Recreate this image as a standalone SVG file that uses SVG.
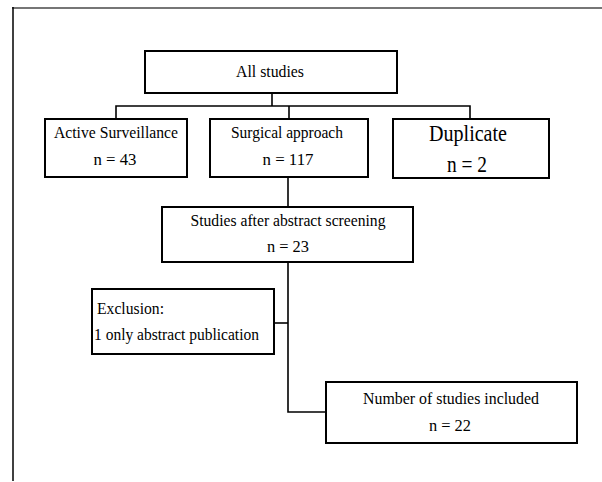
<svg xmlns="http://www.w3.org/2000/svg" width="602" height="482" viewBox="0 0 602 482">
<style>
.box{fill:#fff;stroke:#000;stroke-width:2}
.t{font-family:"Liberation Serif","Times New Roman",serif;font-size:17px;fill:#000;text-anchor:middle}
.big{font-size:23px}
.l{text-anchor:start}
.c{fill:none;stroke:#000;stroke-width:1.6}
</style>
<rect width="602" height="482" fill="#fff"/>
<g id="frame">
<line x1="12" y1="8" x2="602" y2="8" stroke="#767676" stroke-width="2"/>
<line x1="13" y1="7" x2="13" y2="481" stroke="#000" stroke-width="1.5"/>
</g>
<g id="connectors">
<path class="c" d="M272 93V106M116 119V106H470V119M289 106V119"/>
<path class="c" d="M288 177V207"/>
<path class="c" d="M288 262V412H326"/>
<path class="c" d="M274 323H288"/>
</g>
<g id="all">
<rect class="box" x="145" y="51" width="252" height="42"/>
<text class="t" x="270" y="77" textLength="68" lengthAdjust="spacingAndGlyphs">All studies</text>
</g>
<g id="active">
<rect class="box" x="45" y="119" width="142" height="58"/>
<text class="t" x="116" y="138" textLength="124" lengthAdjust="spacingAndGlyphs">Active Surveillance</text>
<text class="t" x="115" y="165" textLength="43" lengthAdjust="spacingAndGlyphs">n = 43</text>
</g>
<g id="surgical">
<rect class="box" x="210" y="119" width="158" height="58"/>
<text class="t" x="287" y="138" textLength="112" lengthAdjust="spacingAndGlyphs">Surgical approach</text>
<text class="t" x="288" y="165" textLength="51" lengthAdjust="spacingAndGlyphs">n = 117</text>
</g>
<g id="duplicate">
<rect class="box" x="393" y="119" width="156" height="59"/>
<text class="t big" x="468" y="141" textLength="78" lengthAdjust="spacingAndGlyphs">Duplicate</text>
<text class="t big" x="467" y="172" textLength="40" lengthAdjust="spacingAndGlyphs">n = 2</text>
</g>
<g id="screening">
<rect class="box" x="162" y="207" width="251" height="55"/>
<text class="t" x="288" y="226" textLength="195" lengthAdjust="spacingAndGlyphs">Studies after abstract screening</text>
<text class="t" x="288" y="252" textLength="42" lengthAdjust="spacingAndGlyphs">n = 23</text>
</g>
<g id="exclusion">
<rect class="box" x="92" y="289" width="182" height="65"/>
<text class="t l" x="97" y="314" textLength="67" lengthAdjust="spacingAndGlyphs">Exclusion:</text>
<text class="t l" x="94" y="340" textLength="165" lengthAdjust="spacingAndGlyphs">1 only abstract publication</text>
</g>
<g id="included">
<rect class="box" x="326" y="382" width="251" height="61"/>
<text class="t" x="451" y="404" textLength="176" lengthAdjust="spacingAndGlyphs">Number of studies included</text>
<text class="t" x="450" y="431" textLength="42" lengthAdjust="spacingAndGlyphs">n = 22</text>
</g>
</svg>
